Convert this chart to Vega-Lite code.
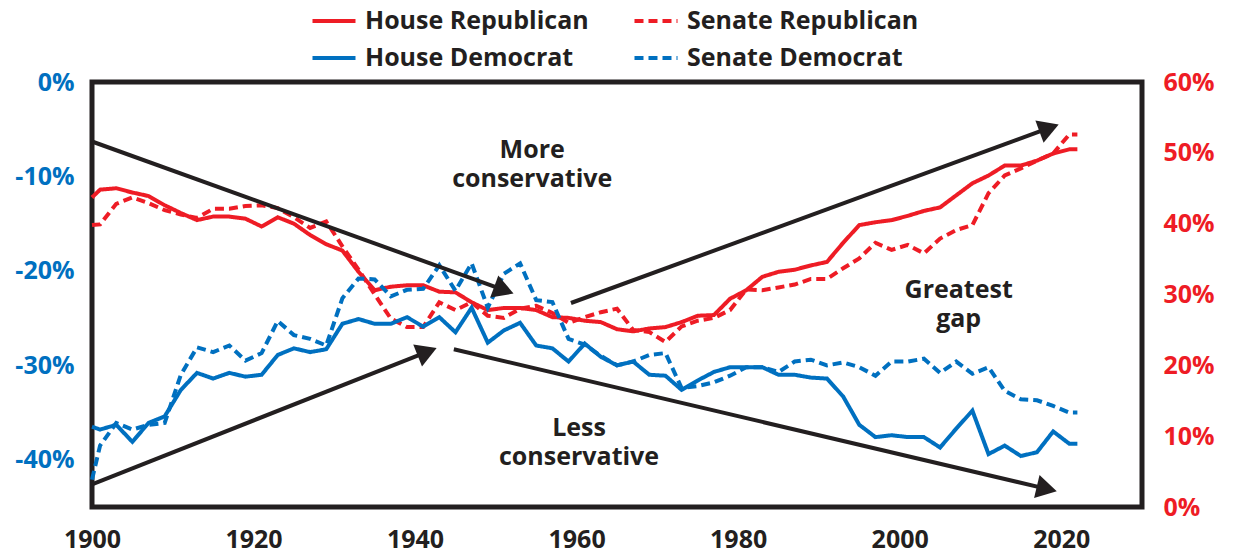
{
  "$schema": "https://vega.github.io/schema/vega-lite/v6.json",
  "width": 1050,
  "height": 425,
  "autosize": {"type": "none"},
  "padding": {"left": 92, "top": 82, "right": 91, "bottom": 53},
  "background": "white",
  "config": {
    "view": {"stroke": "#231F20", "strokeWidth": 5},
    "font": "Open Sans",
    "axis": {"labelFont": "Open Sans", "labelFontWeight": "bold", "labelFontSize": 25, "domain": false, "ticks": false, "grid": false, "title": null, "labelFlush": false, "labelOverlap": false},
    "legend": {"labelFont": "Open Sans", "labelFontWeight": "bold", "labelFontSize": 25, "labelColor": "#231F20", "labelLimit": 0}
  },
  "datasets": {
    "rep": [
      {"series": "House Republican", "year": 1900, "value": 43.7},
      {"series": "House Republican", "year": 1901, "value": 44.8},
      {"series": "House Republican", "year": 1903, "value": 45.0},
      {"series": "House Republican", "year": 1905, "value": 44.4},
      {"series": "House Republican", "year": 1907, "value": 43.9},
      {"series": "House Republican", "year": 1909, "value": 42.6},
      {"series": "House Republican", "year": 1911, "value": 41.5},
      {"series": "House Republican", "year": 1913, "value": 40.5},
      {"series": "House Republican", "year": 1915, "value": 41.0},
      {"series": "House Republican", "year": 1917, "value": 41.0},
      {"series": "House Republican", "year": 1919, "value": 40.7},
      {"series": "House Republican", "year": 1921, "value": 39.6},
      {"series": "House Republican", "year": 1923, "value": 40.9},
      {"series": "House Republican", "year": 1925, "value": 40.0},
      {"series": "House Republican", "year": 1927, "value": 38.4},
      {"series": "House Republican", "year": 1929, "value": 37.1},
      {"series": "House Republican", "year": 1931, "value": 36.2},
      {"series": "House Republican", "year": 1933, "value": 33.2},
      {"series": "House Republican", "year": 1935, "value": 30.6},
      {"series": "House Republican", "year": 1937, "value": 31.1},
      {"series": "House Republican", "year": 1939, "value": 31.3},
      {"series": "House Republican", "year": 1941, "value": 31.3},
      {"series": "House Republican", "year": 1943, "value": 30.4},
      {"series": "House Republican", "year": 1945, "value": 30.3},
      {"series": "House Republican", "year": 1947, "value": 28.9},
      {"series": "House Republican", "year": 1949, "value": 27.8},
      {"series": "House Republican", "year": 1951, "value": 28.1},
      {"series": "House Republican", "year": 1953, "value": 28.1},
      {"series": "House Republican", "year": 1955, "value": 27.8},
      {"series": "House Republican", "year": 1957, "value": 26.8},
      {"series": "House Republican", "year": 1959, "value": 26.7},
      {"series": "House Republican", "year": 1961, "value": 26.3},
      {"series": "House Republican", "year": 1963, "value": 26.1},
      {"series": "House Republican", "year": 1965, "value": 25.1},
      {"series": "House Republican", "year": 1967, "value": 24.8},
      {"series": "House Republican", "year": 1969, "value": 25.2},
      {"series": "House Republican", "year": 1971, "value": 25.4},
      {"series": "House Republican", "year": 1973, "value": 26.1},
      {"series": "House Republican", "year": 1975, "value": 27.0},
      {"series": "House Republican", "year": 1977, "value": 27.1},
      {"series": "House Republican", "year": 1979, "value": 29.4},
      {"series": "House Republican", "year": 1981, "value": 30.6},
      {"series": "House Republican", "year": 1983, "value": 32.5},
      {"series": "House Republican", "year": 1985, "value": 33.2},
      {"series": "House Republican", "year": 1987, "value": 33.5},
      {"series": "House Republican", "year": 1989, "value": 34.1},
      {"series": "House Republican", "year": 1991, "value": 34.6},
      {"series": "House Republican", "year": 1993, "value": 37.3},
      {"series": "House Republican", "year": 1995, "value": 39.8},
      {"series": "House Republican", "year": 1997, "value": 40.2},
      {"series": "House Republican", "year": 1999, "value": 40.5},
      {"series": "House Republican", "year": 2001, "value": 41.1},
      {"series": "House Republican", "year": 2003, "value": 41.8},
      {"series": "House Republican", "year": 2005, "value": 42.3},
      {"series": "House Republican", "year": 2007, "value": 44.0},
      {"series": "House Republican", "year": 2009, "value": 45.7},
      {"series": "House Republican", "year": 2011, "value": 46.8},
      {"series": "House Republican", "year": 2013, "value": 48.2},
      {"series": "House Republican", "year": 2015, "value": 48.2},
      {"series": "House Republican", "year": 2017, "value": 48.9},
      {"series": "House Republican", "year": 2019, "value": 49.9},
      {"series": "House Republican", "year": 2021, "value": 50.5},
      {"series": "House Republican", "year": 2022, "value": 50.5},
      {"series": "Senate Republican", "year": 1900, "value": 39.8},
      {"series": "Senate Republican", "year": 1901, "value": 39.9},
      {"series": "Senate Republican", "year": 1903, "value": 42.8},
      {"series": "Senate Republican", "year": 1905, "value": 43.7},
      {"series": "Senate Republican", "year": 1907, "value": 42.9},
      {"series": "Senate Republican", "year": 1909, "value": 41.9},
      {"series": "Senate Republican", "year": 1911, "value": 41.3},
      {"series": "Senate Republican", "year": 1913, "value": 40.8},
      {"series": "Senate Republican", "year": 1915, "value": 42.1},
      {"series": "Senate Republican", "year": 1917, "value": 42.1},
      {"series": "Senate Republican", "year": 1919, "value": 42.5},
      {"series": "Senate Republican", "year": 1921, "value": 42.6},
      {"series": "Senate Republican", "year": 1923, "value": 42.2},
      {"series": "Senate Republican", "year": 1925, "value": 40.9},
      {"series": "Senate Republican", "year": 1927, "value": 39.4},
      {"series": "Senate Republican", "year": 1929, "value": 40.3},
      {"series": "Senate Republican", "year": 1931, "value": 36.8},
      {"series": "Senate Republican", "year": 1933, "value": 33.5},
      {"series": "Senate Republican", "year": 1935, "value": 30.0},
      {"series": "Senate Republican", "year": 1937, "value": 26.6},
      {"series": "Senate Republican", "year": 1939, "value": 25.4},
      {"series": "Senate Republican", "year": 1941, "value": 25.4},
      {"series": "Senate Republican", "year": 1943, "value": 28.9},
      {"series": "Senate Republican", "year": 1945, "value": 27.8},
      {"series": "Senate Republican", "year": 1947, "value": 28.9},
      {"series": "Senate Republican", "year": 1949, "value": 27.0},
      {"series": "Senate Republican", "year": 1951, "value": 26.7},
      {"series": "Senate Republican", "year": 1953, "value": 28.0},
      {"series": "Senate Republican", "year": 1955, "value": 28.4},
      {"series": "Senate Republican", "year": 1957, "value": 27.4},
      {"series": "Senate Republican", "year": 1959, "value": 26.0},
      {"series": "Senate Republican", "year": 1961, "value": 26.8},
      {"series": "Senate Republican", "year": 1963, "value": 27.5},
      {"series": "Senate Republican", "year": 1965, "value": 28.0},
      {"series": "Senate Republican", "year": 1967, "value": 25.0},
      {"series": "Senate Republican", "year": 1969, "value": 24.7},
      {"series": "Senate Republican", "year": 1971, "value": 23.3},
      {"series": "Senate Republican", "year": 1973, "value": 25.5},
      {"series": "Senate Republican", "year": 1975, "value": 26.3},
      {"series": "Senate Republican", "year": 1977, "value": 26.7},
      {"series": "Senate Republican", "year": 1979, "value": 27.8},
      {"series": "Senate Republican", "year": 1981, "value": 30.7},
      {"series": "Senate Republican", "year": 1983, "value": 30.6},
      {"series": "Senate Republican", "year": 1985, "value": 31.0},
      {"series": "Senate Republican", "year": 1987, "value": 31.4},
      {"series": "Senate Republican", "year": 1989, "value": 32.2},
      {"series": "Senate Republican", "year": 1991, "value": 32.2},
      {"series": "Senate Republican", "year": 1993, "value": 33.7},
      {"series": "Senate Republican", "year": 1995, "value": 35.1},
      {"series": "Senate Republican", "year": 1997, "value": 37.3},
      {"series": "Senate Republican", "year": 1999, "value": 36.3},
      {"series": "Senate Republican", "year": 2001, "value": 37.0},
      {"series": "Senate Republican", "year": 2003, "value": 35.8},
      {"series": "Senate Republican", "year": 2005, "value": 37.9},
      {"series": "Senate Republican", "year": 2007, "value": 39.1},
      {"series": "Senate Republican", "year": 2009, "value": 39.8},
      {"series": "Senate Republican", "year": 2011, "value": 44.3},
      {"series": "Senate Republican", "year": 2013, "value": 46.8},
      {"series": "Senate Republican", "year": 2015, "value": 47.8},
      {"series": "Senate Republican", "year": 2017, "value": 48.9},
      {"series": "Senate Republican", "year": 2019, "value": 49.9},
      {"series": "Senate Republican", "year": 2021, "value": 52.6},
      {"series": "Senate Republican", "year": 2022, "value": 52.6}
    ],
    "dem": [
      {"series": "House Democrat", "year": 1900, "value": -36.5},
      {"series": "House Democrat", "year": 1901, "value": -36.8},
      {"series": "House Democrat", "year": 1903, "value": -36.3},
      {"series": "House Democrat", "year": 1905, "value": -38.1},
      {"series": "House Democrat", "year": 1907, "value": -36.1},
      {"series": "House Democrat", "year": 1909, "value": -35.4},
      {"series": "House Democrat", "year": 1911, "value": -32.6},
      {"series": "House Democrat", "year": 1913, "value": -30.8},
      {"series": "House Democrat", "year": 1915, "value": -31.4},
      {"series": "House Democrat", "year": 1917, "value": -30.8},
      {"series": "House Democrat", "year": 1919, "value": -31.2},
      {"series": "House Democrat", "year": 1921, "value": -31.0},
      {"series": "House Democrat", "year": 1923, "value": -28.9},
      {"series": "House Democrat", "year": 1925, "value": -28.2},
      {"series": "House Democrat", "year": 1927, "value": -28.6},
      {"series": "House Democrat", "year": 1929, "value": -28.3},
      {"series": "House Democrat", "year": 1931, "value": -25.6},
      {"series": "House Democrat", "year": 1933, "value": -25.1},
      {"series": "House Democrat", "year": 1935, "value": -25.6},
      {"series": "House Democrat", "year": 1937, "value": -25.6},
      {"series": "House Democrat", "year": 1939, "value": -24.9},
      {"series": "House Democrat", "year": 1941, "value": -25.9},
      {"series": "House Democrat", "year": 1943, "value": -24.9},
      {"series": "House Democrat", "year": 1945, "value": -26.5},
      {"series": "House Democrat", "year": 1947, "value": -23.9},
      {"series": "House Democrat", "year": 1949, "value": -27.6},
      {"series": "House Democrat", "year": 1951, "value": -26.3},
      {"series": "House Democrat", "year": 1953, "value": -25.5},
      {"series": "House Democrat", "year": 1955, "value": -27.9},
      {"series": "House Democrat", "year": 1957, "value": -28.2},
      {"series": "House Democrat", "year": 1959, "value": -29.6},
      {"series": "House Democrat", "year": 1961, "value": -27.7},
      {"series": "House Democrat", "year": 1963, "value": -29.1},
      {"series": "House Democrat", "year": 1965, "value": -30.0},
      {"series": "House Democrat", "year": 1967, "value": -29.6},
      {"series": "House Democrat", "year": 1969, "value": -31.0},
      {"series": "House Democrat", "year": 1971, "value": -31.1},
      {"series": "House Democrat", "year": 1973, "value": -32.6},
      {"series": "House Democrat", "year": 1975, "value": -31.6},
      {"series": "House Democrat", "year": 1977, "value": -30.7},
      {"series": "House Democrat", "year": 1979, "value": -30.2},
      {"series": "House Democrat", "year": 1981, "value": -30.2},
      {"series": "House Democrat", "year": 1983, "value": -30.2},
      {"series": "House Democrat", "year": 1985, "value": -31.0},
      {"series": "House Democrat", "year": 1987, "value": -31.0},
      {"series": "House Democrat", "year": 1989, "value": -31.3},
      {"series": "House Democrat", "year": 1991, "value": -31.4},
      {"series": "House Democrat", "year": 1993, "value": -33.3},
      {"series": "House Democrat", "year": 1995, "value": -36.3},
      {"series": "House Democrat", "year": 1997, "value": -37.6},
      {"series": "House Democrat", "year": 1999, "value": -37.4},
      {"series": "House Democrat", "year": 2001, "value": -37.6},
      {"series": "House Democrat", "year": 2003, "value": -37.6},
      {"series": "House Democrat", "year": 2005, "value": -38.7},
      {"series": "House Democrat", "year": 2007, "value": -36.7},
      {"series": "House Democrat", "year": 2009, "value": -34.8},
      {"series": "House Democrat", "year": 2011, "value": -39.4},
      {"series": "House Democrat", "year": 2013, "value": -38.5},
      {"series": "House Democrat", "year": 2015, "value": -39.6},
      {"series": "House Democrat", "year": 2017, "value": -39.2},
      {"series": "House Democrat", "year": 2019, "value": -37.0},
      {"series": "House Democrat", "year": 2021, "value": -38.3},
      {"series": "House Democrat", "year": 2022, "value": -38.3},
      {"series": "Senate Democrat", "year": 1900, "value": -42.1},
      {"series": "Senate Democrat", "year": 1901, "value": -38.5},
      {"series": "Senate Democrat", "year": 1903, "value": -36.1},
      {"series": "Senate Democrat", "year": 1905, "value": -36.8},
      {"series": "Senate Democrat", "year": 1907, "value": -36.3},
      {"series": "Senate Democrat", "year": 1909, "value": -36.1},
      {"series": "Senate Democrat", "year": 1911, "value": -31.0},
      {"series": "Senate Democrat", "year": 1913, "value": -28.1},
      {"series": "Senate Democrat", "year": 1915, "value": -28.6},
      {"series": "Senate Democrat", "year": 1917, "value": -27.9},
      {"series": "Senate Democrat", "year": 1919, "value": -29.5},
      {"series": "Senate Democrat", "year": 1921, "value": -28.7},
      {"series": "Senate Democrat", "year": 1923, "value": -25.3},
      {"series": "Senate Democrat", "year": 1925, "value": -26.8},
      {"series": "Senate Democrat", "year": 1927, "value": -27.2},
      {"series": "Senate Democrat", "year": 1929, "value": -27.9},
      {"series": "Senate Democrat", "year": 1931, "value": -22.9},
      {"series": "Senate Democrat", "year": 1933, "value": -20.8},
      {"series": "Senate Democrat", "year": 1935, "value": -20.9},
      {"series": "Senate Democrat", "year": 1937, "value": -22.7},
      {"series": "Senate Democrat", "year": 1939, "value": -22.0},
      {"series": "Senate Democrat", "year": 1941, "value": -21.9},
      {"series": "Senate Democrat", "year": 1943, "value": -19.4},
      {"series": "Senate Democrat", "year": 1945, "value": -22.1},
      {"series": "Senate Democrat", "year": 1947, "value": -19.2},
      {"series": "Senate Democrat", "year": 1949, "value": -23.9},
      {"series": "Senate Democrat", "year": 1951, "value": -20.3},
      {"series": "Senate Democrat", "year": 1953, "value": -19.2},
      {"series": "Senate Democrat", "year": 1955, "value": -23.1},
      {"series": "Senate Democrat", "year": 1957, "value": -23.3},
      {"series": "Senate Democrat", "year": 1959, "value": -27.2},
      {"series": "Senate Democrat", "year": 1961, "value": -27.8},
      {"series": "Senate Democrat", "year": 1963, "value": -29.0},
      {"series": "Senate Democrat", "year": 1965, "value": -30.0},
      {"series": "Senate Democrat", "year": 1967, "value": -29.6},
      {"series": "Senate Democrat", "year": 1969, "value": -28.9},
      {"series": "Senate Democrat", "year": 1971, "value": -28.7},
      {"series": "Senate Democrat", "year": 1973, "value": -32.4},
      {"series": "Senate Democrat", "year": 1975, "value": -32.2},
      {"series": "Senate Democrat", "year": 1977, "value": -31.8},
      {"series": "Senate Democrat", "year": 1979, "value": -31.1},
      {"series": "Senate Democrat", "year": 1981, "value": -30.2},
      {"series": "Senate Democrat", "year": 1983, "value": -30.2},
      {"series": "Senate Democrat", "year": 1985, "value": -30.7},
      {"series": "Senate Democrat", "year": 1987, "value": -29.6},
      {"series": "Senate Democrat", "year": 1989, "value": -29.4},
      {"series": "Senate Democrat", "year": 1991, "value": -30.0},
      {"series": "Senate Democrat", "year": 1993, "value": -29.7},
      {"series": "Senate Democrat", "year": 1995, "value": -30.2},
      {"series": "Senate Democrat", "year": 1997, "value": -31.1},
      {"series": "Senate Democrat", "year": 1999, "value": -29.6},
      {"series": "Senate Democrat", "year": 2001, "value": -29.6},
      {"series": "Senate Democrat", "year": 2003, "value": -29.3},
      {"series": "Senate Democrat", "year": 2005, "value": -30.8},
      {"series": "Senate Democrat", "year": 2007, "value": -29.6},
      {"series": "Senate Democrat", "year": 2009, "value": -30.9},
      {"series": "Senate Democrat", "year": 2011, "value": -30.2},
      {"series": "Senate Democrat", "year": 2013, "value": -32.7},
      {"series": "Senate Democrat", "year": 2015, "value": -33.6},
      {"series": "Senate Democrat", "year": 2017, "value": -33.7},
      {"series": "Senate Democrat", "year": 2019, "value": -34.3},
      {"series": "Senate Democrat", "year": 2021, "value": -35.0},
      {"series": "Senate Democrat", "year": 2022, "value": -35.0}
    ],
    "arrows": [
      {"arrow": "a1", "year": 1900, "value": -6.3, "year2": 1950.6, "value2": -21.9},
      {"arrow": "a2", "year": 1959.3, "value": -23.4, "year2": 2018.1, "value2": -5.0},
      {"arrow": "a3", "year": 1900, "value": -42.6, "year2": 1941.1, "value2": -28.7},
      {"arrow": "a4", "year": 1944.8, "value": -28.3, "year2": 2017.8, "value2": -43.0}
    ],
    "notes": [
      {"label": "More\nconservative", "year": 1954.5, "value": -8.0},
      {"label": "Less\nconservative", "year": 1960.3, "value": -37.5},
      {"label": "Greatest\ngap", "year": 2007.3, "value": -22.9}
    ]
  },
  "layer": [
    {
      "data": {"name": "rep"},
      "mark": {"type": "line", "strokeWidth": 4},
      "encoding": {
        "x": {"field": "year", "type": "quantitative", "scale": {"domain": [1900, 2030]}, "axis": {"values": [1900, 1920, 1940, 1960, 1980, 2000, 2020], "format": "d", "labelColor": "#231F20", "labelPadding": 20}},
        "y": {"field": "value", "type": "quantitative", "scale": {"domain": [0, 60]}, "axis": {"orient": "right", "values": [0, 10, 20, 30, 40, 50, 60], "labelExpr": "datum.value + '%'", "labelColor": "#EE1C25", "labelPadding": 21}},
        "color": {"field": "series", "type": "nominal", "scale": {"domain": ["House Republican", "House Democrat", "Senate Republican", "Senate Democrat"], "range": ["#EE1C25", "#0070C0", "#EE1C25", "#0070C0"]}, "legend": {"orient": "none", "legendX": 218, "legendY": -85, "columns": 2, "title": null, "symbolType": "stroke", "symbolSize": 1850, "symbolStrokeWidth": 4, "labelOffset": 7, "columnPadding": 37, "rowPadding": 0, "padding": 0}},
        "strokeDash": {"field": "series", "type": "nominal", "scale": {"domain": ["House Republican", "House Democrat", "Senate Republican", "Senate Democrat"], "range": [[1, 0], [1, 0], [9, 5], [9, 5]]}, "legend": {"orient": "none", "legendX": 218, "legendY": -85, "columns": 2, "title": null, "symbolType": "stroke", "symbolSize": 1850, "symbolStrokeWidth": 4, "labelOffset": 7, "columnPadding": 37, "rowPadding": 0, "padding": 0}}
      }
    },
    {
      "encoding": {
        "x": {"field": "year", "type": "quantitative", "scale": {"domain": [1900, 2030]}, "axis": {"values": [1900, 1920, 1940, 1960, 1980, 2000, 2020], "format": "d", "labelColor": "#231F20", "labelPadding": 20}},
        "y": {"field": "value", "type": "quantitative", "scale": {"domain": [-45, 0]}, "axis": {"orient": "left", "values": [-40, -30, -20, -10, 0], "labelExpr": "datum.value + '%'", "labelColor": "#0070C0", "labelPadding": 18}}
      },
      "layer": [
        {
          "data": {"name": "dem"},
          "mark": {"type": "line", "strokeWidth": 4},
          "encoding": {
            "color": {"field": "series", "type": "nominal"},
            "strokeDash": {"field": "series", "type": "nominal"}
          }
        },
        {
          "data": {"name": "arrows"},
          "mark": {"type": "rule", "strokeWidth": 4, "color": "#231F20"},
          "encoding": {
            "x2": {"field": "year2"},
            "y2": {"field": "value2"}
          }
        },
        {
          "data": {"name": "arrows"},
          "transform": [{"filter": "datum.arrow == 'a1'"}],
          "mark": {"type": "point", "shape": "triangle", "filled": true, "color": "#231F20", "opacity": 1, "size": 560, "angle": 110},
          "encoding": {"x": {"field": "year2", "type": "quantitative"}, "y": {"field": "value2", "type": "quantitative"}}
        },
        {
          "data": {"name": "arrows"},
          "transform": [{"filter": "datum.arrow == 'a2'"}],
          "mark": {"type": "point", "shape": "triangle", "filled": true, "color": "#231F20", "opacity": 1, "size": 560, "angle": 69.7},
          "encoding": {"x": {"field": "year2", "type": "quantitative"}, "y": {"field": "value2", "type": "quantitative"}}
        },
        {
          "data": {"name": "arrows"},
          "transform": [{"filter": "datum.arrow == 'a3'"}],
          "mark": {"type": "point", "shape": "triangle", "filled": true, "color": "#231F20", "opacity": 1, "size": 560, "angle": 68.2},
          "encoding": {"x": {"field": "year2", "type": "quantitative"}, "y": {"field": "value2", "type": "quantitative"}}
        },
        {
          "data": {"name": "arrows"},
          "transform": [{"filter": "datum.arrow == 'a4'"}],
          "mark": {"type": "point", "shape": "triangle", "filled": true, "color": "#231F20", "opacity": 1, "size": 560, "angle": 103.3},
          "encoding": {"x": {"field": "year2", "type": "quantitative"}, "y": {"field": "value2", "type": "quantitative"}}
        },
        {
          "data": {"name": "notes"},
          "mark": {"type": "text", "font": "Open Sans", "fontWeight": "bold", "fontSize": 25, "color": "#231F20", "align": "center", "baseline": "alphabetic", "lineBreak": "\n", "lineHeight": 29},
          "encoding": {"text": {"field": "label"}}
        }
      ]
    }
  ],
  "resolve": {"scale": {"y": "independent"}, "axis": {"y": "independent"}}
}
